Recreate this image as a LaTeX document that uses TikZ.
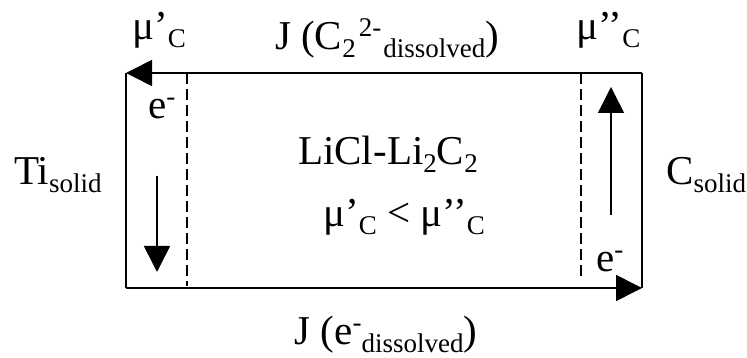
\documentclass[tikz,border=0pt]{standalone}
\usepackage{fontspec}
\setmainfont{Liberation Serif}
\usepackage{tikz}
\usetikzlibrary{arrows.meta,positioning}

\newcommand{\lowtxt}[1]{\raisebox{-8pt}{\fontsize{27}{30}\selectfont #1}}
\newcommand{\hightxt}[1]{\raisebox{13pt}{\fontsize{27}{30}\selectfont #1}}

\tikzset{
  txt/.style={inner sep=0pt, font=\fontsize{41}{48}\selectfont},
  wall/.style={line width=1.6pt},
  flux/.style={line width=1.6pt, -{Triangle[length=26pt,width=26pt]}},
  layer/.style={line width=2.4pt, dash pattern=on 11pt off 5pt},
}

\begin{document}
\begin{tikzpicture}[x=1pt, y=-1pt]
  \useasboundingbox (0,0) rectangle (747,358);

  \coordinate (tl) at (126,73);
  \coordinate (tr) at (642,73);
  \coordinate (bl) at (126,288);
  \coordinate (br) at (642,288);

  \draw[wall] (tl) -- (bl);
  \draw[wall] (br) -- (tr);
  \draw[flux] (tr) -- (tl);
  \draw[flux] (bl) -- (br);

  \coordinate (dl1) at (187,73);
  \coordinate (dl2) at (187,286);
  \coordinate (dr1) at (581,73);
  \coordinate (dr2) at (581,278);
  \draw[layer] (dl1) -- (dl2);
  \draw[layer] (dr1) -- (dr2);

  \coordinate (el1) at (157,176);
  \coordinate (el2) at (157,272);
  \coordinate (er1) at (611,215);
  \coordinate (er2) at (611,87);
  \draw[flux] (el1) -- (el2);
  \draw[flux] (er1) -- (er2);

  \node[txt, anchor=base west] (muA) at (132,40) {μ’\lowtxt{C}};
  \node[txt, anchor=base west] (muB) at (576,40) {μ’’\lowtxt{C}};
  \node[txt, anchor=base] (Jtop) at (387,50) {J (C\lowtxt{2}\kern3pt\hightxt{2-}\kern2pt\lowtxt{dissolved})};

  \node[txt, anchor=base west] (Ti) at (14,185) {Ti\lowtxt{solid}};
  \node[txt, anchor=base west] (Cs) at (666,185) {C\lowtxt{solid}};

  \node[txt, anchor=base] (melt) at (388,165) {LiCl-Li\lowtxt{2}C\lowtxt{2}};
  \node[txt, anchor=base] (ineq) at (404,227) {μ’\lowtxt{C} < μ’’\lowtxt{C}};

  \node[txt, anchor=base west] (eA) at (148,119) {e\hightxt{-}};
  \node[txt, anchor=base west] (eB) at (596,271) {e\hightxt{-}};

  \node[txt, anchor=base] (Jbot) at (386,344) {J (e\hightxt{-}\lowtxt{dissolved})};
\end{tikzpicture}
\end{document}
